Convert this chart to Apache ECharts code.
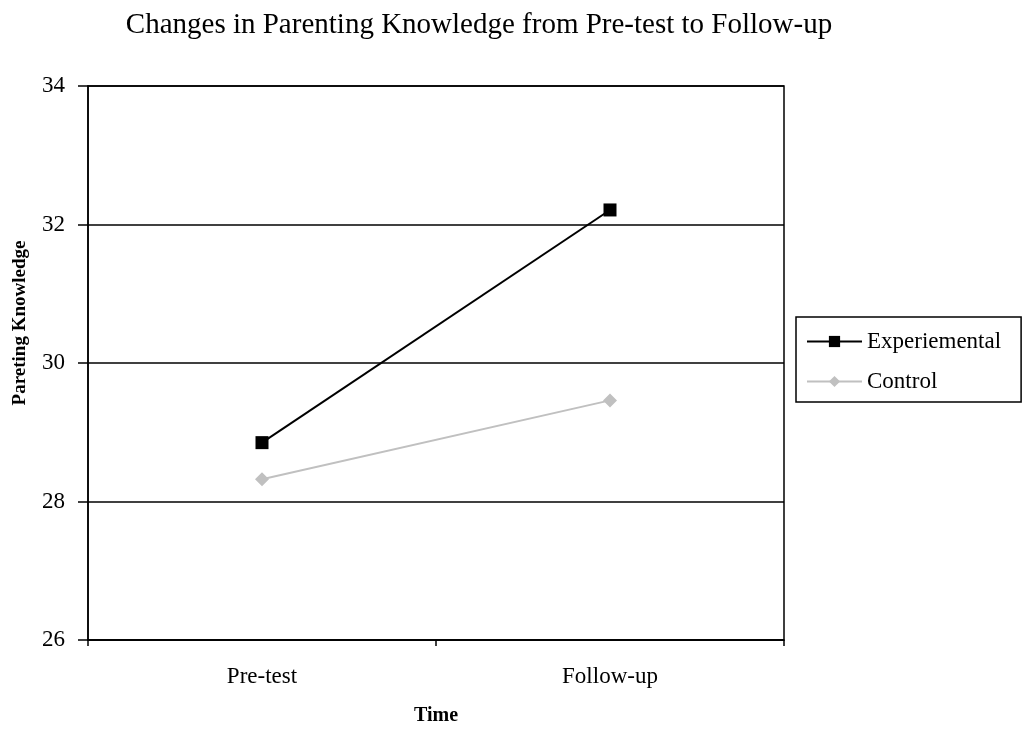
<!DOCTYPE html>
<html><head><meta charset="utf-8">
<script src="https://cdn.jsdelivr.net/npm/echarts@6/dist/echarts.min.js"></script>
<style>html,body{margin:0;padding:0;background:#fff}#c{width:1029px;height:734px}</style>
</head><body><div id="c"></div>
<script>
const categories = ['Pre-test', 'Follow-up'];
const experimental = [28.85, 32.21];
const control = [28.32, 29.46];
const yTicks = [26, 28, 30, 32, 34];

const F = '"Liberation Serif", "Times New Roman", serif';
const chart = echarts.init(document.getElementById('c'));
chart.setOption({
  animation: false,
  backgroundColor: '#fff',
  title: {
    text: 'Changes in Parenting Knowledge from Pre-test to Follow-up',
    left: 474, top: 6, textAlign: 'center',
    textStyle: { fontFamily: F, fontSize: 29, fontWeight: 'normal', color: '#000' }
  },
  legend: {
    orient: 'vertical', left: 796, top: 317,
    padding: [13, 20, 9, 10], itemGap: 17,
    itemWidth: 55, itemHeight: 14,
    borderColor: '#000', borderWidth: 1.5, backgroundColor: '#fff',
    textStyle: { fontFamily: F, fontSize: 23, color: '#000' },
    data: ['Experiemental', 'Control']
  },
  grid: { left: 88, top: 86, width: 696, height: 554, show: true, borderColor: '#000', borderWidth: 1.5, containLabel: false, outerBoundsMode: 'none' },
  xAxis: {
    type: 'category', data: categories, boundaryGap: true,
    name: 'Time', nameLocation: 'middle', nameGap: 66,
    nameTextStyle: { fontFamily: F, fontSize: 20, fontWeight: 'bold', color: '#000' },
    axisLine: { lineStyle: { color: '#000', width: 1.5 } },
    axisTick: { show: true, length: 6, inside: false, lineStyle: { color: '#000', width: 1.5 } },
    axisLabel: { fontFamily: F, fontSize: 23, color: '#000', margin: 25 },
    splitLine: { show: false }
  },
  yAxis: {
    type: 'value', min: yTicks[0], max: yTicks[yTicks.length - 1], interval: 2,
    name: 'Pareting Knowledge', nameLocation: 'middle', nameGap: 58, nameRotate: 90,
    nameTextStyle: { fontFamily: F, fontSize: 19, fontWeight: 'bold', color: '#000', padding: [0, 0, 0, 80] },
    axisLine: { show: true, lineStyle: { color: '#000', width: 1.5 } },
    axisTick: { show: true, length: 10, inside: false, lineStyle: { color: '#000', width: 1.5 } },
    axisLabel: { fontFamily: F, fontSize: 23, color: '#000', margin: 23 },
    splitLine: { show: true, lineStyle: { color: '#000', width: 1.5 } }
  },
  series: [
    {
      name: 'Experiemental', type: 'line', data: experimental,
      symbol: 'rect', symbolSize: 13,
      lineStyle: { color: '#000', width: 2 },
      itemStyle: { color: '#000' }
    },
    {
      name: 'Control', type: 'line', data: control,
      symbol: 'diamond', symbolSize: 14,
      lineStyle: { color: '#c0c0c0', width: 2 },
      itemStyle: { color: '#c0c0c0' }
    }
  ]
});
</script></body></html>
